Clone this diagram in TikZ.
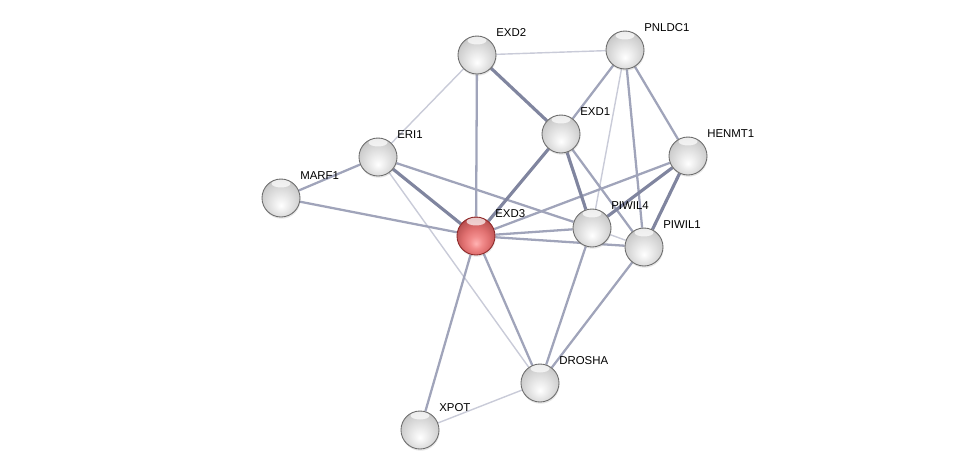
\documentclass[tikz,border=0pt]{standalone}
\usepackage{fontspec}
\setmainfont{Liberation Sans}
\usepackage{tikz}
\usetikzlibrary{backgrounds,shadows}
\definecolor{weakedge}{HTML}{C9CBD8}
\definecolor{midedge}{HTML}{A0A4BA}
\definecolor{strongedge}{HTML}{80859F}
\definecolor{rimgray}{HTML}{6E6E6E}
\definecolor{rimred}{HTML}{8E2A2A}
\pgfdeclareradialshading{grayball}{\pgfpoint{0bp}{-10bp}}{%
  color(0bp)=(white); color(8bp)=(gray!12); color(17bp)=(gray!26);
  color(26bp)=(gray!40); color(32bp)=(gray!58); color(37bp)=(gray!70); color(50bp)=(gray!70)}
\pgfdeclareradialshading{redball}{\pgfpoint{0bp}{-10bp}}{%
  color(0bp)=(red!30!white); color(8bp)=(red!42!white!95!black);
  color(17bp)=(red!50!white!88!black); color(26bp)=(red!55!white!75!black);
  color(32bp)=(red!60!black!80); color(37bp)=(red!55!black); color(50bp)=(red!55!black)}
\tikzset{
  ball/.style={circle,minimum size=.76cm,inner sep=0pt,draw=rimgray,line width=.5pt,
    shading=grayball,drop shadow={shadow xshift=.3pt,shadow yshift=-1pt,opacity=.2},
    path picture={\fill[white,opacity=.7] ([yshift=-.09cm]path picture bounding box.north)
      ellipse [x radius=.19cm,y radius=.08cm];}},
  query/.style={ball,draw=rimred,shading=redball},
  lbl/.style={font=\fontsize{6.5}{8}\selectfont,anchor=base west,inner sep=0pt},
  weak/.style={draw=weakedge,line width=.8pt},
  mid/.style={draw=midedge,line width=1.3pt},
  strong/.style={draw=strongedge,line width=1.8pt}
}
\begin{document}
\begin{tikzpicture}[x=.02cm,y=-.02cm]
  \useasboundingbox (0,0) rectangle (975,476);
  % proteins
  \node[ball] (exd2) at (477,55) {};
  \node[ball] (pnldc1) at (625,50) {};
  \node[ball] (exd1) at (561,134) {};
  \node[ball] (eri1) at (378,157) {};
  \node[ball] (henmt1) at (688,156) {};
  \node[ball] (marf1) at (281,198) {};
  \node[query] (exd3) at (476,236) {};
  \node[ball] (piwil4) at (592,228) {};
  \node[ball] (piwil1) at (644,247) {};
  \node[ball] (drosha) at (540,383) {};
  \node[ball] (xpot) at (420,430) {};
  % names
  \foreach \n/\t in {exd2/EXD2,pnldc1/PNLDC1,exd1/EXD1,eri1/ERI1,henmt1/HENMT1,marf1/MARF1,
      exd3/EXD3,piwil4/PIWIL4,piwil1/PIWIL1,drosha/DROSHA,xpot/XPOT}
    \node[lbl] (\n-name) at ([shift={(19,-18)}]\n.center) {\t};
  % interactions
  \begin{scope}[on background layer]
    \foreach \a/\b in {exd2/pnldc1,exd2/eri1,pnldc1/piwil4,eri1/drosha,piwil4/piwil1,drosha/xpot}
      \draw[weak] (\a) -- (\b);
    \foreach \a/\b in {exd2/exd3,pnldc1/piwil1,pnldc1/henmt1,pnldc1/exd1,eri1/marf1,eri1/piwil4,
        marf1/exd3,exd3/henmt1,exd3/piwil4,exd3/piwil1,exd3/drosha,exd3/xpot,exd1/piwil1,
        piwil4/drosha,piwil1/drosha}
      \draw[mid] (\a) -- (\b);
    \foreach \a/\b in {exd2/exd1,eri1/exd3,exd3/exd1,exd1/piwil4,henmt1/piwil4,henmt1/piwil1}
      \draw[strong] (\a) -- (\b);
  \end{scope}
\end{tikzpicture}
\end{document}
